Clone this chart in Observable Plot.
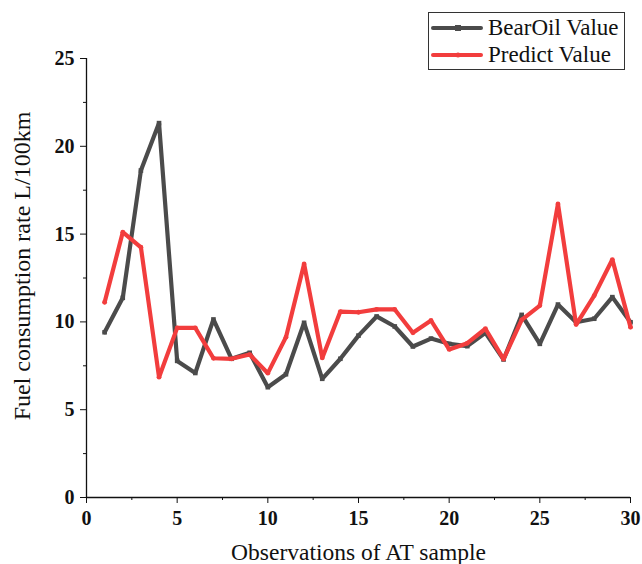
<!DOCTYPE html>
<html>
<head>
<meta charset="utf-8">
<script src="https://cdn.jsdelivr.net/npm/d3@7"></script>
<script src="https://cdn.jsdelivr.net/npm/@observablehq/plot@0.6"></script>
<style>
  html, body { margin: 0; padding: 0; background: #fff; }
  #wrap { position: relative; width: 642px; height: 564px; overflow: hidden; font-family: "Liberation Serif", "Times New Roman", serif; }
  #chart svg, #chart svg text { font-family: "Liberation Serif", "Times New Roman", serif !important; }
  #chart svg g.ticklab text { font-weight: bold; }
  #legend { position: absolute; left: 428px; top: 12px; width: 197px; height: 58px; border: 1px solid #333; background: #fff; box-sizing: border-box; }
  #legend .row { position: absolute; left: 2px; height: 26px; display: flex; align-items: center; font-size: 23px; color: #111; font-family: "Liberation Serif", "Times New Roman", serif; }
  #legend svg { margin-right: 5px; }
</style>
</head>
<body>
<div id="wrap">
  <div id="chart"></div>
  <div id="legend"></div>
</div>
<script>
const observations = [1,2,3,4,5,6,7,8,9,10,11,12,13,14,15,16,17,18,19,20,21,22,23,24,25,26,27,28,29,30];
const bearOilValue = [9.41,11.37,18.62,21.32,7.78,7.09,10.14,7.90,8.24,6.28,7.02,9.95,6.76,7.90,9.22,10.31,9.74,8.60,9.05,8.75,8.62,9.38,7.86,10.40,8.75,10.99,9.98,10.18,11.41,9.98];
const predictValue = [11.12,15.11,14.25,6.85,9.66,9.66,7.93,7.90,8.14,7.08,9.13,13.30,7.95,10.59,10.55,10.71,10.71,9.38,10.08,8.43,8.79,9.61,7.88,10.12,10.93,16.72,9.85,11.50,13.55,9.70];
const seriesNames = ["BearOil Value", "Predict Value"];
const seriesColors = ["#4b4b4b", "#f23d3d"];
const xMajorTicks = [0,5,10,15,20,25,30];
const xMinorTicks = [2.5,7.5,12.5,17.5,22.5,27.5];
const yMajorTicks = [0,5,10,15,20,25];
const yMinorTicks = [2.5,7.5,12.5,17.5,22.5];
const xLabel = "Observations of AT sample";
const yLabel = "Fuel consumption rate L/100km";

const rows = [];
observations.forEach((o, i) => {
  rows.push({x: o, y: bearOilValue[i], s: seriesNames[0]});
  rows.push({x: o, y: predictValue[i], s: seriesNames[1]});
});
const black = rows.filter(d => d.s === seriesNames[0]);
const red = rows.filter(d => d.s === seriesNames[1]);
const serif = "Liberation Serif, Times New Roman, serif";

const chart = Plot.plot({
  width: 642,
  height: 564,
  marginLeft: 86,
  marginRight: 12,
  marginTop: 58,
  marginBottom: 67,
  style: {fontFamily: serif, background: "#fff", color: "#111"},
  x: {domain: [0, 30]},
  y: {domain: [0, 25]},
  marks: [
    Plot.axisX(xMajorTicks, {tickSize: 6, tickPadding: 7, fontSize: 20, fontWeight: "bold", fontFamily: serif, className: "ticklab", label: null, stroke: "#111"}),
    Plot.axisX(xMinorTicks, {tickSize: 3, tickFormat: () => "", label: null, stroke: "#111"}),
    Plot.axisY(yMajorTicks, {tickSize: 6, tickPadding: 6, fontSize: 20, fontWeight: "bold", fontFamily: serif, className: "ticklab", label: null, stroke: "#111"}),
    Plot.axisY(yMinorTicks, {tickSize: 3, tickFormat: () => "", label: null, stroke: "#111"}),
    Plot.ruleX([0], {stroke: "#111", strokeWidth: 1.3}),
    Plot.ruleY([0], {stroke: "#111", strokeWidth: 1.3}),
    Plot.text([yLabel], {frameAnchor: "left", textAnchor: "middle", rotate: -90, dx: -64, dy: -12, fontSize: 24, fontFamily: serif, fill: "#111"}),
    Plot.text([xLabel], {frameAnchor: "bottom", dy: 62, fontSize: 23.5, fontFamily: serif, fill: "#111"}),
    Plot.line(black, {x: "x", y: "y", stroke: seriesColors[0], strokeWidth: 4.2, strokeLinejoin: "miter"}),
    Plot.dot(black, {x: "x", y: "y", symbol: "square", r: 2.6, fill: seriesColors[0]}),
    Plot.line(red, {x: "x", y: "y", stroke: seriesColors[1], strokeWidth: 4.2, strokeLinejoin: "miter"}),
    Plot.dot(red, {x: "x", y: "y", symbol: "circle", r: 2.4, fill: seriesColors[1]})
  ]
});
document.getElementById("chart").appendChild(chart);

const legend = document.getElementById("legend");
seriesNames.forEach((name, i) => {
  const row = document.createElement("div");
  row.className = "row";
  row.style.top = (i === 0 ? 2 : 29) + "px";
  const marker = i === 0
    ? `<rect x="24" y="8" width="6" height="6" fill="${seriesColors[i]}"/>`
    : `<circle cx="27" cy="11" r="2.5" fill="${seriesColors[i]}"/>`;
  row.innerHTML = `<svg width="52" height="22"><line x1="2" x2="50" y1="11" y2="11" stroke="${seriesColors[i]}" stroke-width="4" stroke-linecap="round"/>${marker}</svg><span>${name}</span>`;
  legend.appendChild(row);
});
</script>
</body>
</html>
